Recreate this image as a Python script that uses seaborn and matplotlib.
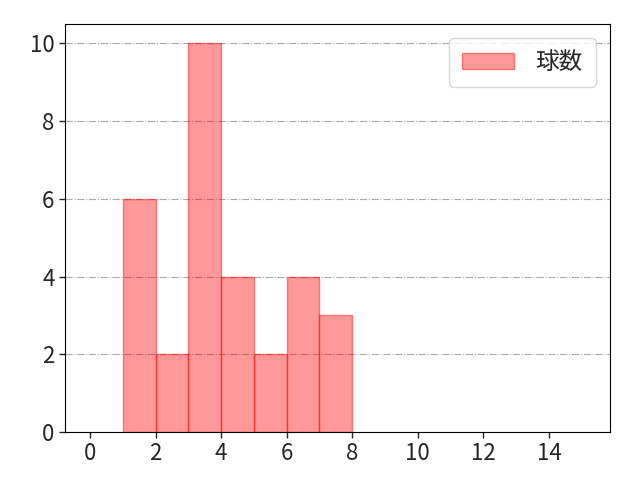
import matplotlib
matplotlib.use("Agg")
import matplotlib.pyplot as plt
import seaborn as sns
import numpy as np

# Histogram data (bin left edges and counts)
bin_left = [1, 2, 3, 4, 5, 6, 7]
counts = [6, 2, 10, 4, 2, 4, 3]
bin_edges = [1, 2, 3, 4, 5, 6, 7, 8]
label = "球数"

sns.set_style("white")
plt.rcParams['font.family'] = ['Noto Sans CJK JP', 'DejaVu Sans']

fig, ax = plt.subplots(figsize=(6.4, 4.8), dpi=100)
sns.histplot(x=bin_left, weights=counts, bins=bin_edges, ax=ax,
             color="#ff0000", alpha=0.4, edgecolor=(1, 0, 0, 0.45),
             linewidth=1, label=label)

ax.set_xlim(-0.76, 15.86)
ax.set_ylim(0, 10.5)
ax.set_xticks(np.arange(0, 16, 2))
ax.set_yticks(np.arange(0, 11, 2))
ax.tick_params(labelsize=16, length=4, width=1, bottom=True, left=True)
ax.set_xlabel("")
ax.set_ylabel("")
ax.yaxis.grid(True, linestyle="-.", color="#aaaaaa", linewidth=0.8)
ax.set_axisbelow(True)
for s in ax.spines.values():
    s.set_color("black")
    s.set_linewidth(0.8)
ax.legend(loc="upper right", fontsize=17, handlelength=2.2,
          handletextpad=0.9, borderaxespad=0.6, borderpad=0.55)

fig.subplots_adjust(left=0.1016, right=0.953, bottom=0.1, top=0.95)
fig.savefig("out.png", dpi=100)
